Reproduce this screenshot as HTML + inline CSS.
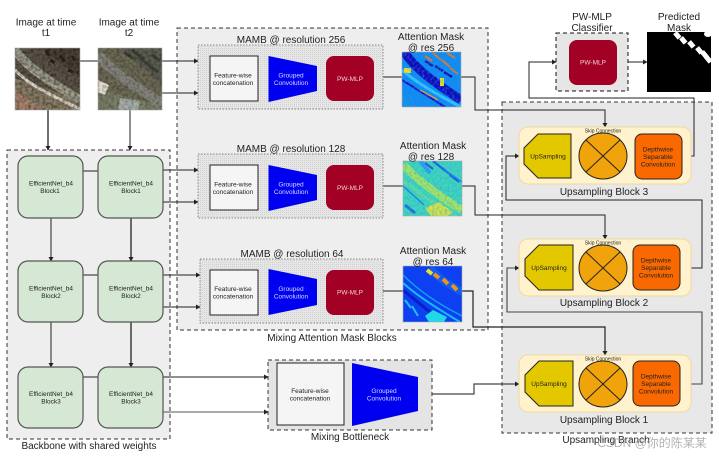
<!DOCTYPE html>
<html><head><meta charset="utf-8">
<style>
html,body{margin:0;padding:0;background:#fff;width:719px;height:457px;overflow:hidden}
svg{display:block;filter:blur(.3px)}
text{font-family:"Liberation Sans","Noto Sans CJK SC",sans-serif;text-anchor:middle;fill:#222}
.t{font-size:10px}
.s{font-size:6.500px}
.c{fill:none;stroke:#222;stroke-width:1}
.g{fill:#d8d8ff}
.p{fill:#f0d0d8}
.k{font-size:5px}
</style></head><body>
<svg width="719" height="457" viewBox="0 0 719 457" xmlns="http://www.w3.org/2000/svg">
<defs>
<marker id="a" markerWidth="5" markerHeight="5" refX="4" refY="2.5" orient="auto" markerUnits="userSpaceOnUse"><path d="M0 0L4.5 2.5L0 5z" fill="#222"/></marker>
<pattern id="dots" width="2" height="2" patternUnits="userSpaceOnUse"><rect width="2" height="2" fill="#e6e6e6"/><rect width="1" height="1" fill="#d2d2d2"/></pattern>
<filter id="nd" x="0" y="0" width="100%" height="100%"><feTurbulence type="fractalNoise" baseFrequency=".35" numOctaves="2" seed="4"/><feColorMatrix values="0 0 0 0 0  0 0 0 0 0  0 0 0 0 0  1.800 0 0 0 -.65"/></filter>
<filter id="nb" x="0" y="0" width="100%" height="100%"><feTurbulence type="fractalNoise" baseFrequency=".4" numOctaves="2" seed="9"/><feColorMatrix values="0 0 0 0 .05  0 0 0 0 .25  0 0 0 0 .9  2 0 0 0 -.75"/></filter>
<clipPath id="c1"><rect x="15" y="48" width="65" height="62"/></clipPath>
<clipPath id="c2"><rect x="98" y="48" width="64" height="62"/></clipPath>
<clipPath id="m1"><rect x="402" y="52" width="59" height="55"/></clipPath>
<clipPath id="m2"><rect x="403" y="161" width="59" height="55"/></clipPath>
<clipPath id="m3"><rect x="403" y="266" width="59" height="56"/></clipPath>
<clipPath id="pm"><rect x="647" y="32" width="64" height="60"/></clipPath>
</defs>

<!-- containers -->
<rect x="7" y="150" width="163" height="289" fill="#eee" stroke="#333" stroke-dasharray="4 3"/>
<rect x="177" y="28" width="311" height="302" fill="#eee" stroke="#333" stroke-dasharray="4 3"/>
<rect x="502" y="102" width="210" height="331" fill="#e8e8e8" stroke="#333" stroke-dasharray="4 3"/>
<rect x="556" y="33" width="72" height="58" fill="#e6e6e6" stroke="#111" stroke-dasharray="4 3"/>
<rect x="268" y="360" width="164" height="70" fill="#e4e4e4" stroke="#333" stroke-dasharray="4 3"/>

<!-- connectors -->
<g class="c">
<path d="M80 61H98"/>
<path d="M162 61H198" marker-end="url(#a)"/>
<path d="M162 93H198" marker-end="url(#a)"/>
<path d="M48 110V150" stroke-width="1.3" marker-end="url(#a)"/>
<path d="M130 110V150" marker-end="url(#a)"/>
<path d="M83 171H98"/>
<path d="M163 170H198" marker-end="url(#a)"/>
<path d="M163 202H198" marker-end="url(#a)"/>
<path d="M51 218V261" marker-end="url(#a)"/>
<path d="M131 218V261" stroke-width="1.3" marker-end="url(#a)"/>
<path d="M83 275H98"/>
<path d="M163 275H200" marker-end="url(#a)"/>
<path d="M163 307H200" marker-end="url(#a)"/>
<path d="M51 322V367" marker-end="url(#a)"/>
<path d="M131 322V367" stroke-width="1.3" marker-end="url(#a)"/>
<path d="M83 377H98"/>
<path d="M163 377H268" marker-end="url(#a)"/>
<path d="M163 412H268" stroke="#555" marker-end="url(#a)"/>
<path d="M383 77H402"/>
<path d="M383 186H403"/>
<path d="M383 291H403"/>
<path d="M461 77H475V110H605V127" marker-end="url(#a)"/>
<path d="M462 186H475V215H605V239" marker-end="url(#a)"/>
<path d="M462 291H473V327H605V355" stroke-width="1.2" marker-end="url(#a)"/>
<path d="M432 394H474V384H519" stroke="#444" stroke-width="1.2" marker-end="url(#a)"/>
<path d="M691 156H694V98H529V62H556" marker-end="url(#a)"/>
<path d="M628 62H647" marker-end="url(#a)"/>
<path d="M691 268H702V200H506V156H519" marker-end="url(#a)"/>
<path d="M691 384H702V312H507V268H519" stroke="#444" stroke-width="1.1" marker-end="url(#a)"/>
</g>

<!-- satellite images -->
<g clip-path="url(#c1)">
<rect x="15" y="48" width="65" height="62" fill="#5d5448"/>
<path d="M40 48L80 78V48z" fill="#4c4236"/>
<path d="M15 78L15 110H80V100z" fill="#8a7d66"/>
<path d="M15 50C30 70 55 85 80 100" stroke="#9a9a8c" stroke-width="9" fill="none"/>
<path d="M15 56C30 76 55 88 80 96" stroke="#c2b288" stroke-width="1" fill="none"/>
<path d="M15 70C30 86 55 97 80 109" stroke="#ddd9cc" stroke-width="3" fill="none"/>
<path d="M15 88L40 110H15z" fill="#a8856e"/>
<path d="M50 60l5 3M60 55l4 6M68 70l5 2M46 50l3 6M72 56l3 5" stroke="#2c261e" stroke-width="3"/>
<rect x="15" y="48" width="65" height="62" filter="url(#nd)" opacity=".55"/>
</g>
<rect x="15" y="48" width="65" height="62" fill="none" stroke="#aaa" stroke-width=".6"/>
<g clip-path="url(#c2)">
<rect x="98" y="48" width="64" height="62" fill="#6d6a55"/>
<path d="M120 48L162 85V48z" fill="#5b5e50"/>
<path d="M98 90L98 110H162V105z" fill="#7b8068"/>
<path d="M98 55C115 75 140 90 162 103" stroke="#85847c" stroke-width="10" fill="none"/>
<path d="M98 80l11 5-4 10-7-3z" fill="#e2ddd0"/>
<path d="M120 98l20 3-2 9h-20z" fill="#a9b0ac"/>
<path d="M124 52l10 7M132 50l12 9M140 58l10 8M148 65l10 7M152 55l8 6" stroke="#3f4038" stroke-width="3"/>
<rect x="98" y="48" width="64" height="62" filter="url(#nd)" opacity=".4"/>
</g>
<rect x="98" y="48" width="64" height="62" fill="none" stroke="#aaa" stroke-width=".6"/>

<!-- backbone blocks -->
<g fill="#d5e8d4" stroke="#555" stroke-width="1.2">
<rect x="18" y="156" width="65" height="62" rx="10"/>
<rect x="98" y="156" width="65" height="62" rx="10"/>
<rect x="18" y="261" width="65" height="61" rx="10"/>
<rect x="98" y="261" width="65" height="61" rx="10"/>
<rect x="18" y="367" width="65" height="61" rx="10"/>
<rect x="98" y="367" width="65" height="61" rx="10"/>
</g>
<g>
<text x="51" y="185.500" class="s">EfficientNet_b4</text><text x="50" y="193" class="s">Block1</text>
<text x="131" y="185.500" class="s">EfficientNet_b4</text><text x="131" y="193" class="s">Block1</text>
<text x="51" y="290.500" class="s">EfficientNet_b4</text><text x="51" y="298" class="s">Block2</text>
<text x="131" y="290.500" class="s">EfficientNet_b4</text><text x="131" y="298" class="s">Block2</text>
<text x="51" y="396" class="s">EfficientNet_b4</text><text x="51" y="403.500" class="s">Block3</text>
<text x="131" y="396" class="s">EfficientNet_b4</text><text x="131" y="403.500" class="s">Block3</text>
</g>

<!-- MAMB -->
<g fill="url(#dots)" stroke="#666" stroke-width=".7" stroke-dasharray="1.5 1.5">
<rect x="198" y="45" width="185" height="64"/>
<rect x="198" y="154" width="185" height="64"/>
<rect x="200" y="259" width="183" height="64"/>
</g>
<g fill="#f5f5f5" stroke="#222" stroke-width="1">
<rect x="210" y="56" width="48" height="45"/>
<rect x="210" y="165" width="48" height="45"/>
<rect x="210" y="270" width="48" height="45"/>
<rect x="277" y="363" width="67" height="62"/>
</g>
<g fill="#0000f0">
<path d="M268.500 56L317 66V91L268.500 102z"/>
<path d="M268.500 165L317 175V200L268.500 211z"/>
<path d="M268.500 269L317 279V305L268.500 315z"/>
<path d="M352 363L418 377V411L352 426z"/>
</g>
<g fill="#a20025">
<rect x="326" y="56" width="48" height="45" rx="8"/>
<rect x="326" y="165" width="48" height="45" rx="8"/>
<rect x="326" y="270" width="48" height="45" rx="8"/>
<rect x="569" y="40" width="48" height="45" rx="8"/>
</g>
<g>
<text class="s" x="233" y="77.500">Feature-wise</text><text class="s" x="233" y="85">concatenation</text>
<text class="s" x="233" y="186.500">Feature-wise</text><text class="s" x="233" y="194">concatenation</text>
<text class="s" x="233" y="291">Feature-wise</text><text class="s" x="233" y="298.500">concatenation</text>
<text class="s" x="310" y="393">Feature-wise</text><text class="s" x="310" y="400.500">concatenation</text>
</g>
<g>
<text class="s g" x="291" y="77.500">Grouped</text><text class="s g" x="291" y="85">Convolution</text>
<text class="s g" x="291" y="186.500">Grouped</text><text class="s g" x="291" y="194">Convolution</text>
<text class="s g" x="291" y="291">Grouped</text><text class="s g" x="291" y="298.500">Convolution</text>
<text class="s g" x="384" y="393">Grouped</text><text class="s g" x="384" y="400.500">Convolution</text>
<text class="s p" x="350" y="81">PW-MLP</text>
<text class="s p" x="350" y="190">PW-MLP</text>
<text class="s p" x="350" y="294.500">PW-MLP</text>
<text class="s p" x="593" y="64.500">PW-MLP</text>
</g>

<!-- attention masks -->
<g clip-path="url(#m1)">
<rect x="402" y="52" width="59" height="55" fill="#0a8cf0"/>
<path d="M404 52C418 72 440 86 461 100" stroke="#0a0ab8" stroke-width="9" fill="none"/>
<path d="M402 70C418 84 440 96 461 107" stroke="#30c8ff" stroke-width="3" fill="none"/>
<path d="M402 80L445 107" stroke="#1010c8" stroke-width="2" fill="none"/>
<path d="M425 56l7 5M433 53l8 7M442 60l8 7M450 68l8 6M447 53l8 5" stroke="#e87a20" stroke-width="2"/>
<path d="M425 61l8 5M435 66l8 5M444 72l8 5" stroke="#1010b0" stroke-width="2.500"/>
<path d="M404 68h7v5h-7z" fill="#f0e020"/>
<path d="M420 90l18 10" stroke="#e8a030" stroke-width="1.500"/>
<path d="M402 92l14 15h-14z" fill="#1090e8"/>
<path d="M440 78h4v8h-4z" fill="#e8e020"/>
<rect x="402" y="52" width="59" height="55" filter="url(#nb)" opacity=".6"/>
</g>
<rect x="402" y="52" width="59" height="55" fill="none" stroke="#aaa" stroke-width=".6"/>
<g clip-path="url(#m2)">
<rect x="403" y="161" width="59" height="55" fill="#3cd8b8"/>
<path d="M403 165C420 182 442 198 462 210" stroke="#a0e860" stroke-width="8" fill="none"/>
<path d="M403 180C420 195 440 207 455 216" stroke="#58e0a0" stroke-width="4" fill="none"/>
<path d="M425 163l8 6M433 161l10 8M442 168l9 7M450 175l9 7" stroke="#1860e0" stroke-width="2.200"/>
<path d="M403 186L424 205M445 170l17 12" stroke="#2080e8" stroke-width="1.500"/>
<path d="M425 208l14-6 14 10-6 4h-16z" fill="#d0e840"/>
<path d="M405 205l10 8" stroke="#2070e0" stroke-width="3"/>
<path d="M430 173l-10-12" stroke="#30a0e8" stroke-width="4"/>
<rect x="403" y="161" width="59" height="55" filter="url(#nb)" opacity=".5"/>
</g>
<rect x="403" y="161" width="59" height="55" fill="none" stroke="#aaa" stroke-width=".6"/>
<g clip-path="url(#m3)">
<rect x="403" y="266" width="59" height="56" fill="#0c40f0"/>
<path d="M403 275C420 292 442 306 462 316" stroke="#10a0f0" stroke-width="1.500" fill="none"/>
<path d="M403 283C420 298 440 310 460 322" stroke="#18b8f8" stroke-width="2" fill="none"/>
<path d="M403 290C415 300 425 308 440 320" stroke="#0820c8" stroke-width="3" fill="none"/>
<path d="M430 268C440 280 450 285 462 292" stroke="#1070f0" stroke-width="8" fill="none" opacity=".6"/>
<path d="M427 270l5 4" stroke="#f0e020" stroke-width="4"/>
<path d="M434 274l5 4M443 279l5 5M452 285l5 5" stroke="#f09020" stroke-width="4"/>
<path d="M425 316l8-6 14 7-3 5h-15z" fill="#20d8e8"/>
<path d="M405 300l6 8M412 306l6 10" stroke="#20c0f0" stroke-width="2"/>
</g>
<rect x="403" y="266" width="59" height="56" fill="none" stroke="#aaa" stroke-width=".6"/>

<!-- predicted mask -->
<g clip-path="url(#pm)">
<rect x="647" y="32" width="64" height="60" fill="#000"/>
<g fill="#fff">
<rect x="-3" y="-2.500" width="7" height="5" transform="translate(677 35) rotate(50)"/>
<rect x="-3" y="-2.500" width="7" height="5" transform="translate(683 40) rotate(50)"/>
<rect x="-3" y="-2.500" width="7" height="5" transform="translate(691 44) rotate(50)"/>
<rect x="-3" y="-2.500" width="7" height="5" transform="translate(699 50) rotate(50)"/>
<rect x="-3" y="-2.500" width="7" height="5" transform="translate(704 54) rotate(50)"/>
<rect x="-3" y="-2.500" width="7" height="5" transform="translate(708 59) rotate(50)"/>
<ellipse cx="708" cy="34" rx="4" ry="3"/>
</g>
</g>

<!-- upsampling blocks -->
<g fill="#fff2cc" stroke="#eed9a0" stroke-width="1">
<rect x="519" y="127" width="172" height="57" rx="9"/>
<rect x="519" y="239" width="172" height="57" rx="9"/>
<rect x="519" y="355" width="172" height="57" rx="9"/>
</g>
<g fill="#e3c800" stroke="#222" stroke-width="1">
<path d="M538 134H571V178H538L524 164V148z"/>
<path d="M539 245H573V290H539L525 276V259z"/>
<path d="M539 361H573V406H539L525 392V375z"/>
</g>
<g fill="#f0a30a" stroke="#222" stroke-width="1">
<ellipse cx="603" cy="156" rx="24" ry="23"/>
<path d="M586 140L620 172M620 140L586 172"/>
<ellipse cx="603" cy="268" rx="24" ry="23"/>
<path d="M586 252L620 284M620 252L586 284"/>
<ellipse cx="603" cy="384" rx="24" ry="23"/>
<path d="M586 368L620 400M620 368L586 400"/>
</g>
<g fill="#fa6800" stroke="#222" stroke-width="1">
<rect x="635" y="134" width="47" height="45" rx="7"/>
<rect x="633" y="245" width="47" height="45" rx="7"/>
<rect x="633" y="361" width="47" height="45" rx="7"/>
</g>
<g>
<text class="s" x="548" y="158.500">UpSampling</text>
<text class="s" x="549" y="270">UpSampling</text>
<text class="s" x="549" y="386">UpSampling</text>
<text class="s" x="658" y="151.500">Depthwise</text><text class="s" x="658" y="159">Separable</text><text class="s" x="658" y="166.500">Convolution</text>
<text class="s" x="656" y="262.500">Depthwise</text><text class="s" x="656" y="270">Separable</text><text class="s" x="656" y="277.500">Convolution</text>
<text class="s" x="656" y="378.500">Depthwise</text><text class="s" x="656" y="386">Separable</text><text class="s" x="656" y="393.500">Convolution</text>
</g>
<g>
<text class="k" x="603" y="132.500">Skip Connection</text>
<text class="k" x="603" y="244.500">Skip Connection</text>
<text class="k" x="603" y="360.500">Skip Connection</text>
</g>

<!-- titles -->
<g class="t">
<text x="46" y="25.500">Image at time</text><text x="46" y="36">t1</text>
<text x="129" y="25.500">Image at time</text><text x="129" y="36">t2</text>
<text x="291" y="43">MAMB @ resolution 256</text>
<text x="291" y="152">MAMB @ resolution 128</text>
<text x="292" y="257">MAMB @ resolution 64</text>
<text x="431" y="40">Attention Mask</text><text x="431" y="51">@ res 256</text>
<text x="433" y="149">Attention Mask</text><text x="431" y="160">@ res 128</text>
<text x="433" y="254">Attention Mask</text><text x="433" y="265">@ res 64</text>
<text x="332" y="341">Mixing Attention Mask Blocks</text>
<text x="350" y="440">Mixing Bottleneck</text>
<text x="89" y="449">Backbone with shared weights</text>
<text x="592" y="20">PW-MLP</text><text x="592" y="31">Classifier</text>
<text x="679" y="20">Predicted</text><text x="679" y="31">Mask</text>
<text x="604" y="195">Upsampling Block 3</text>
<text x="604" y="306">Upsampling Block 2</text>
<text x="604" y="423">Upsampling Block 1</text>
<text x="606" y="443">Upsampling Branch</text>
</g>
<text x="652" y="447" style="font-size:12px;fill:#999;opacity:.75">CSDN @你的陈某某</text>
</svg>
</body></html>
